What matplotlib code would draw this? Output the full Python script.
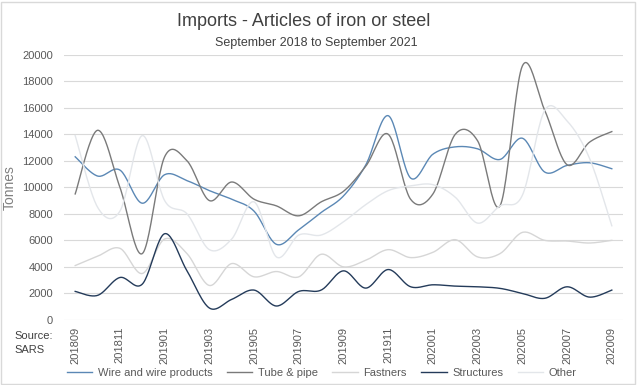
import numpy as np
import matplotlib.pyplot as plt
from matplotlib.patches import Rectangle

plt.rcParams['font.family'] = ['Liberation Sans', 'DejaVu Sans']

months = ["201809", "201810", "201811", "201812", "201901", "201902", "201903",
          "201904", "201905", "201906", "201907", "201908", "201909", "201910",
          "201911", "201912", "202001", "202002", "202003", "202004", "202005",
          "202006", "202007", "202008", "202009"]

wire = [12300, 10850, 11300, 8800, 10950, 10500, 9750, 9100, 8200, 5700, 6800, 8100,
        9350, 11700, 15400, 10700, 12500, 13050, 12900, 12100, 13700, 11150, 11650,
        11850, 11400]
tube = [9500, 14300, 10000, 5000, 12300, 12000, 9000, 10400, 9100, 8600, 7850, 8900,
        9700, 11600, 14000, 9100, 9500, 14000, 13500, 8600, 19150, 15800, 11700,
        13400, 14200]
fastners = [4100, 4800, 5400, 3500, 6100, 5000, 2600, 4250, 3250, 3650, 3250, 4950,
            4000, 4500, 5300, 4700, 5100, 6050, 4750, 5000, 6600, 6000, 5950, 5800, 6000]
structures = [2150, 1850, 3200, 2700, 6500, 3700, 900, 1550, 2250, 1050, 2150, 2250,
              3700, 2400, 3800, 2500, 2650, 2550, 2500, 2380, 2000, 1630, 2500, 1720, 2250]
other = [13900, 8500, 8200, 13900, 9000, 8000, 5300, 6100, 8900, 4750, 6400, 6400,
         7400, 8700, 9750, 10100, 10200, 9250, 7300, 8600, 9400, 15800, 15000, 12200, 7100]

series = [("Wire and wire products", wire, "#5b88b5"),
          ("Tube & pipe", tube, "#7a7a7a"),
          ("Fastners", fastners, "#d6d6d6"),
          ("Structures", structures, "#243b5a"),
          ("Other", other, "#e3e6ea")]


def smooth(y, n=24):
    # excel style smoothed line: bezier segments with catmull-rom controls
    y = np.asarray(y, float)
    p = np.column_stack([np.arange(len(y), dtype=float), y])
    pe = np.vstack([p[0], p, p[-1]])
    t = np.linspace(0, 1, n)[:, None]
    segs = []
    for i in range(len(p) - 1):
        p0, p1, p2, p3 = pe[i], pe[i + 1], pe[i + 2], pe[i + 3]
        c1 = p1 + (p2 - p0) / 6
        c2 = p2 - (p3 - p1) / 6
        seg = (1 - t) ** 3 * p1 + 3 * (1 - t) ** 2 * t * c1 + 3 * (1 - t) * t ** 2 * c2 + t ** 3 * p2
        segs.append(seg if i == 0 else seg[1:])
    s = np.vstack(segs)
    return s[:, 0], s[:, 1]


fig = plt.figure(figsize=(6.37, 3.85), dpi=100)
ax = fig.add_axes([0.1005, 0.169, 0.8775, 0.689])

for name, vals, col in series:
    xs, ys = smooth(vals)
    ax.plot(xs, ys, color=col, lw=1.0, label=name)

ax.set_xlim(-0.5, len(months) - 0.5)
ax.set_ylim(0, 20000)
ax.set_yticks(range(0, 20001, 2000))
ax.set_xticks(range(0, len(months), 2))
ax.set_xticklabels(months[::2], rotation=90)
ax.tick_params(length=0, labelsize=8, labelcolor="#595959")
ax.tick_params(axis="y", pad=8)
ax.tick_params(axis="x", pad=5)
ax.grid(axis="y", color="#d9d9d9", lw=0.8)
ax.set_axisbelow(True)
for sp in ax.spines.values():
    sp.set_visible(False)

ax.set_ylabel("Tonnes", fontsize=10, color="#808080")
ax.yaxis.set_label_coords(-0.085, 0.5)

fig.text(0.477, 0.943, "Imports - Articles of iron or steel", ha="center", va="center",
         fontsize=13, color="#404040")
fig.text(0.497, 0.888, "September 2018 to September 2021", ha="center", va="center",
         fontsize=9, color="#404040")
fig.text(0.022, 0.11, "Source:\nSARS", ha="left", va="center", fontsize=8,
         color="#404040", linespacing=1.5)

fig.legend(loc="center", bbox_to_anchor=(0.505, 0.031), ncol=5, frameon=False,
           fontsize=8, labelcolor="#595959", handlelength=2.3, columnspacing=1.3,
           handletextpad=0.5)

fig.patches.append(Rectangle((0.002, 0.003), 0.995, 0.993, transform=fig.transFigure,
                             fill=False, edgecolor="#d9d9d9", lw=1))

fig.savefig("out.png", dpi=100)
